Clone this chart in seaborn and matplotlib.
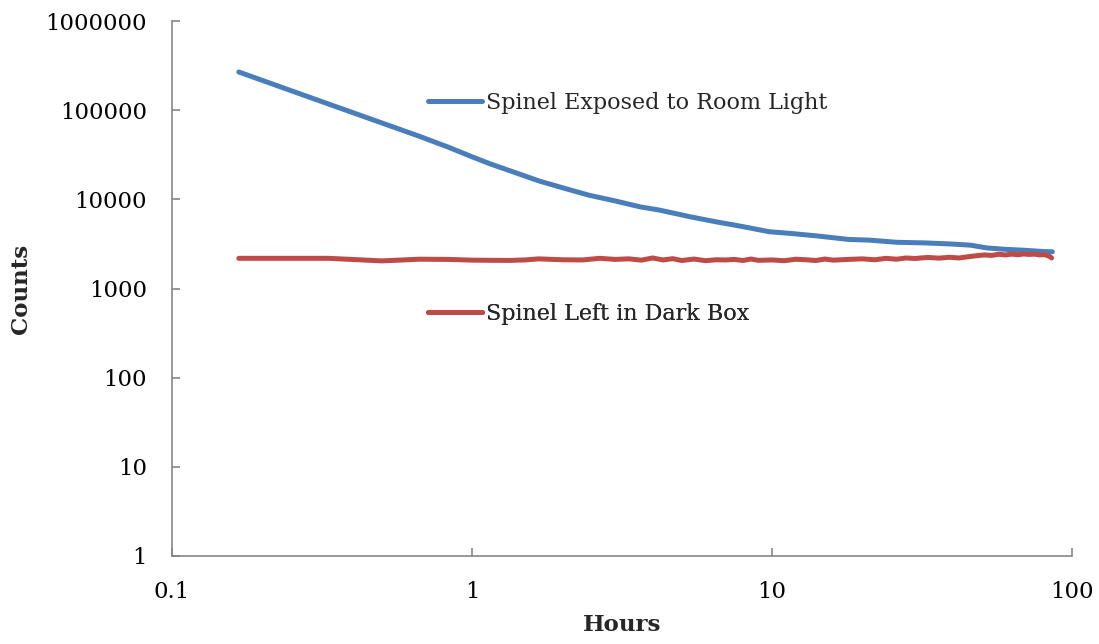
import matplotlib
matplotlib.use("Agg")
import matplotlib.pyplot as plt
from matplotlib.lines import Line2D
import seaborn as sns
import pandas as pd

# Decay of spinel luminescence counts over time
exposed_hours = [0.167, 0.25, 0.333, 0.5, 0.667, 0.833, 1.0, 1.15, 1.333, 1.68,
                 2.0, 2.46, 3.0, 3.63, 4.22, 5.34, 6.5, 7.83, 9.8, 11.5,
                 14, 18, 21, 26, 32, 40, 46, 52, 60, 70, 80, 86]
exposed_counts = [268000, 165000, 117000, 72000, 51000, 38500, 30000, 25000, 21000, 16000,
                  13500, 11100, 9600, 8240, 7570, 6370, 5600, 5010, 4330, 4150,
                  3900, 3550, 3490, 3300, 3250, 3150, 3060, 2850, 2750, 2680, 2600, 2580]

dark_hours = [0.167, 0.333, 0.5, 0.667, 0.833, 1.0, 1.167, 1.333, 1.5, 1.667,
              2.0, 2.333, 2.667, 3.0, 3.333, 3.667, 4.0, 4.333, 4.667, 5.0,
              5.5, 6.0, 6.5, 7.0, 7.5, 8.0, 8.5, 9.0, 10, 11,
              12, 13, 14, 15, 16, 18, 20, 22, 24, 26,
              28, 30, 33, 36, 39, 42, 45, 48, 51, 54,
              57, 60, 63, 66, 69, 72, 75, 78, 81, 84, 85.5]
dark_counts = [2180, 2180, 2040, 2130, 2120, 2080, 2070, 2065, 2090, 2150,
               2100, 2090, 2180, 2120, 2150, 2080, 2200, 2090, 2160, 2060,
               2140, 2050, 2100, 2090, 2120, 2060, 2140, 2070, 2090, 2050,
               2130, 2100, 2060, 2140, 2080, 2120, 2150, 2100, 2180, 2130,
               2200, 2170, 2230, 2190, 2240, 2200, 2270, 2330, 2380, 2350,
               2420, 2380, 2430, 2390, 2440, 2410, 2430, 2380, 2400, 2300, 2200]

series_names = ["Spinel Exposed to Room Light", "Spinel Left in Dark Box"]
series_colors = ["#4A7EBB", "#BE4B48"]

x_ticks = [0.1, 1, 10, 100]
x_tick_labels = ["0.1", "1", "10", "100"]
y_ticks = [1, 10, 100, 1000, 10000, 100000, 1000000]
y_tick_labels = ["1", "10", "100", "1000", "10000", "100000", "1000000"]

sns.set_theme(style="white")
plt.rcParams["font.family"] = ["DejaVu Serif"]

df_exposed = pd.DataFrame({"Hours": exposed_hours, "Counts": exposed_counts})
df_dark = pd.DataFrame({"Hours": dark_hours, "Counts": dark_counts})

fig = plt.figure(figsize=(10.99, 6.44), dpi=100)
ax = fig.add_axes([172 / 1099, 1 - 556 / 644, 900 / 1099, 535 / 644])

lw = 3.6
sns.lineplot(data=df_exposed, x="Hours", y="Counts", ax=ax, color=series_colors[0],
             linewidth=lw, legend=False, solid_capstyle="round")
sns.lineplot(data=df_dark, x="Hours", y="Counts", ax=ax, color=series_colors[1],
             linewidth=lw, legend=False, solid_capstyle="round")

ax.set_xscale("log")
ax.set_yscale("log")
ax.set_xlim(0.1, 100)
ax.set_ylim(1, 1000000)
ax.set_xticks(x_ticks)
ax.set_xticklabels(x_tick_labels)
ax.set_yticks(y_ticks)
ax.set_yticklabels(y_tick_labels)
ax.minorticks_off()

spine_color = "#868686"
for side in ["top", "right"]:
    ax.spines[side].set_visible(False)
for side in ["left", "bottom"]:
    ax.spines[side].set_color(spine_color)
    ax.spines[side].set_linewidth(1.2)

ax.tick_params(axis="both", which="major", direction="in", length=5.5, width=1.2,
               color=spine_color, labelsize=16.5, labelcolor="black")
ax.tick_params(axis="y", pad=18)
ax.tick_params(axis="x", pad=18)
ax.tick_params(axis="x", bottom=True)
ax.tick_params(axis="y", left=True)

ax.set_xlabel("Hours", fontsize=16.5, fontweight="bold", labelpad=8)
ax.set_ylabel("Counts", fontsize=16.5, fontweight="bold", labelpad=10)

fs = 16
handle_px = 54
fs_px = fs * 100 / 72
for name, color, ypix in zip(series_names, series_colors, [103, 314]):
    h = Line2D([], [], color=color, linewidth=lw, solid_capstyle="round")
    leg = ax.legend([h], [name], loc="center left",
                    bbox_to_anchor=(428 / 1099, 1 - ypix / 644),
                    bbox_transform=fig.transFigure, frameon=False, fontsize=fs,
                    borderpad=0, borderaxespad=0, handlelength=handle_px / fs_px,
                    handletextpad=4 / fs_px)
    ax.add_artist(leg)

fig.savefig("out.png", dpi=100, facecolor="white")
